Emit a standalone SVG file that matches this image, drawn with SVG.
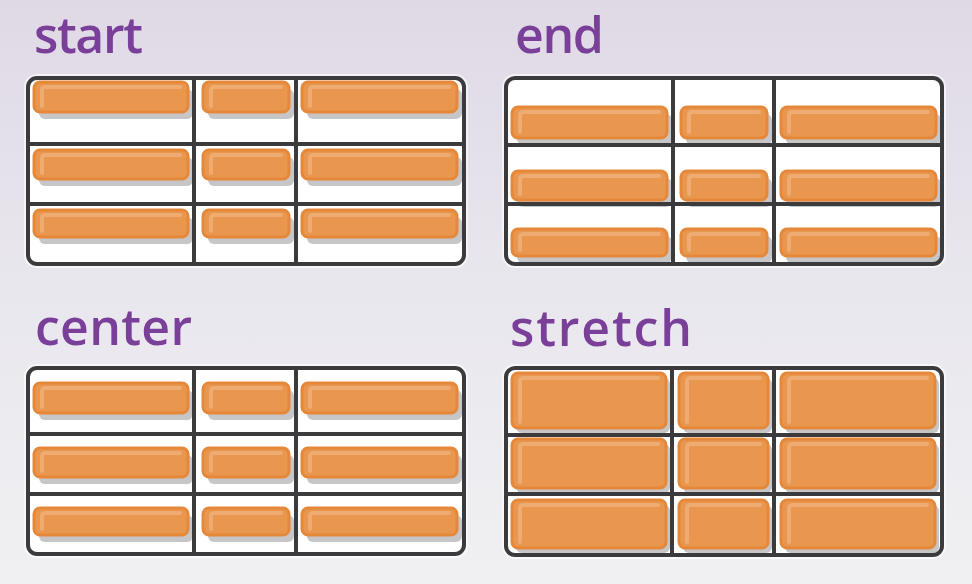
<svg xmlns="http://www.w3.org/2000/svg" width="972" height="584" viewBox="0 0 972 584">
<defs>
<linearGradient id="bg" x1="0" y1="0" x2="0" y2="1">
<stop offset="0" stop-color="#dfd9e6"/>
<stop offset="0.5" stop-color="#e9e7ee"/>
<stop offset="1" stop-color="#f0f0f2"/>
</linearGradient>
</defs>
<style>
.lbl{font-family:"Open Sans","Liberation Sans",sans-serif;font-size:50px;font-weight:600;fill:#7a3f98}
.frame{fill:#ffffff;stroke:#ffffff;stroke-width:8;stroke-opacity:0.6}
.edge{fill:none;stroke:#3b3b3d;stroke-width:4}
.ln{stroke:#3b3b3d;stroke-width:4;stroke-linecap:round}
.sh{fill:#c6c6c8}
.bx{fill:#e9964f;stroke:#e6883a;stroke-width:3}
.hl{fill:none;stroke:#eeac72;stroke-width:4;stroke-linecap:round}
</style>
<rect x="0" y="0" width="972" height="584" fill="url(#bg)"/>

<g id="panel-start">
<text class="lbl" x="34" y="53" textLength="109" lengthAdjust="spacing">start</text>
<rect class="frame" x="28" y="78" width="436" height="186" rx="9"/>
<g id="start-items">
<rect class="sh" x="39" y="89" width="154" height="30" rx="6"/><rect class="bx" x="34" y="82" width="154" height="30" rx="6"/><path class="hl" d="M42 106V90Q42 87 46 87H180"/>
<rect class="sh" x="208" y="89" width="86" height="30" rx="6"/><rect class="bx" x="203" y="82" width="86" height="30" rx="6"/><path class="hl" d="M211 106V90Q211 87 215 87H281"/>
<rect class="sh" x="307" y="89" width="155" height="30" rx="6"/><rect class="bx" x="302" y="82" width="155" height="30" rx="6"/><path class="hl" d="M310 106V90Q310 87 314 87H449"/>
<rect class="sh" x="39" y="157" width="154" height="29" rx="6"/><rect class="bx" x="34" y="150" width="154" height="29" rx="6"/><path class="hl" d="M42 173V158Q42 155 46 155H180"/>
<rect class="sh" x="208" y="157" width="86" height="29" rx="6"/><rect class="bx" x="203" y="150" width="86" height="29" rx="6"/><path class="hl" d="M211 173V158Q211 155 215 155H281"/>
<rect class="sh" x="307" y="157" width="155" height="29" rx="6"/><rect class="bx" x="302" y="150" width="155" height="29" rx="6"/><path class="hl" d="M310 173V158Q310 155 314 155H449"/>
<rect class="sh" x="39" y="217" width="154" height="27" rx="6"/><rect class="bx" x="34" y="210" width="154" height="27" rx="6"/><path class="hl" d="M42 231V218Q42 215 46 215H180"/>
<rect class="sh" x="208" y="217" width="86" height="27" rx="6"/><rect class="bx" x="203" y="210" width="86" height="27" rx="6"/><path class="hl" d="M211 231V218Q211 215 215 215H281"/>
<rect class="sh" x="307" y="217" width="155" height="27" rx="6"/><rect class="bx" x="302" y="210" width="155" height="27" rx="6"/><path class="hl" d="M310 231V218Q310 215 314 215H449"/>
</g>
<g id="start-grid">
<line class="ln" x1="194" y1="78" x2="194" y2="264"/><line class="ln" x1="296" y1="78" x2="296" y2="264"/>
<line class="ln" x1="28" y1="144" x2="464" y2="144"/><line class="ln" x1="28" y1="204" x2="464" y2="204"/>
<rect class="edge" x="28" y="78" width="436" height="186" rx="9"/>
</g>
</g>

<g id="panel-end">
<text class="lbl" x="515" y="53" textLength="89" lengthAdjust="spacing">end</text>
<rect class="frame" x="506" y="78" width="436" height="186" rx="9"/>
<g id="end-items">
<rect class="sh" x="517" y="114" width="155" height="31" rx="6"/><rect class="bx" x="512" y="107" width="155" height="31" rx="6"/><path class="hl" d="M520 132V115Q520 112 524 112H659"/>
<rect class="sh" x="686" y="114" width="86" height="31" rx="6"/><rect class="bx" x="681" y="107" width="86" height="31" rx="6"/><path class="hl" d="M689 132V115Q689 112 693 112H759"/>
<rect class="sh" x="786" y="114" width="155" height="31" rx="6"/><rect class="bx" x="781" y="107" width="155" height="31" rx="6"/><path class="hl" d="M789 132V115Q789 112 793 112H928"/>
<rect class="sh" x="517" y="178" width="155" height="29" rx="6"/><rect class="bx" x="512" y="171" width="155" height="29" rx="6"/><path class="hl" d="M520 194V179Q520 176 524 176H659"/>
<rect class="sh" x="686" y="178" width="86" height="29" rx="6"/><rect class="bx" x="681" y="171" width="86" height="29" rx="6"/><path class="hl" d="M689 194V179Q689 176 693 176H759"/>
<rect class="sh" x="786" y="178" width="155" height="29" rx="6"/><rect class="bx" x="781" y="171" width="155" height="29" rx="6"/><path class="hl" d="M789 194V179Q789 176 793 176H928"/>
<rect class="sh" x="517" y="236" width="155" height="27" rx="6"/><rect class="bx" x="512" y="229" width="155" height="27" rx="6"/><path class="hl" d="M520 250V237Q520 234 524 234H659"/>
<rect class="sh" x="686" y="236" width="86" height="27" rx="6"/><rect class="bx" x="681" y="229" width="86" height="27" rx="6"/><path class="hl" d="M689 250V237Q689 234 693 234H759"/>
<rect class="sh" x="786" y="236" width="155" height="27" rx="6"/><rect class="bx" x="781" y="229" width="155" height="27" rx="6"/><path class="hl" d="M789 250V237Q789 234 793 234H928"/>
</g>
<g id="end-grid">
<line class="ln" x1="673" y1="78" x2="673" y2="264"/><line class="ln" x1="774" y1="78" x2="774" y2="264"/>
<line class="ln" x1="506" y1="145" x2="942" y2="145"/><line class="ln" x1="506" y1="204" x2="942" y2="204"/>
<rect class="edge" x="506" y="78" width="436" height="186" rx="9"/>
</g>
</g>

<g id="panel-center">
<text class="lbl" x="35" y="345" textLength="157" lengthAdjust="spacing">center</text>
<rect class="frame" x="28" y="368" width="436" height="186" rx="9"/>
<g id="center-items">
<rect class="sh" x="39" y="390" width="154" height="30" rx="6"/><rect class="bx" x="34" y="383" width="154" height="30" rx="6"/><path class="hl" d="M42 407V391Q42 388 46 388H180"/>
<rect class="sh" x="208" y="390" width="86" height="30" rx="6"/><rect class="bx" x="203" y="383" width="86" height="30" rx="6"/><path class="hl" d="M211 407V391Q211 388 215 388H281"/>
<rect class="sh" x="307" y="390" width="155" height="30" rx="6"/><rect class="bx" x="302" y="383" width="155" height="30" rx="6"/><path class="hl" d="M310 407V391Q310 388 314 388H449"/>
<rect class="sh" x="39" y="455" width="154" height="29" rx="6"/><rect class="bx" x="34" y="448" width="154" height="29" rx="6"/><path class="hl" d="M42 471V456Q42 453 46 453H180"/>
<rect class="sh" x="208" y="455" width="86" height="29" rx="6"/><rect class="bx" x="203" y="448" width="86" height="29" rx="6"/><path class="hl" d="M211 471V456Q211 453 215 453H281"/>
<rect class="sh" x="307" y="455" width="155" height="29" rx="6"/><rect class="bx" x="302" y="448" width="155" height="29" rx="6"/><path class="hl" d="M310 471V456Q310 453 314 453H449"/>
<rect class="sh" x="39" y="515" width="154" height="27" rx="6"/><rect class="bx" x="34" y="508" width="154" height="27" rx="6"/><path class="hl" d="M42 529V516Q42 513 46 513H180"/>
<rect class="sh" x="208" y="515" width="86" height="27" rx="6"/><rect class="bx" x="203" y="508" width="86" height="27" rx="6"/><path class="hl" d="M211 529V516Q211 513 215 513H281"/>
<rect class="sh" x="307" y="515" width="155" height="27" rx="6"/><rect class="bx" x="302" y="508" width="155" height="27" rx="6"/><path class="hl" d="M310 529V516Q310 513 314 513H449"/>
</g>
<g id="center-grid">
<line class="ln" x1="194" y1="368" x2="194" y2="554"/><line class="ln" x1="296" y1="368" x2="296" y2="554"/>
<line class="ln" x1="28" y1="434" x2="464" y2="434"/><line class="ln" x1="28" y1="494" x2="464" y2="494"/>
<rect class="edge" x="28" y="368" width="436" height="186" rx="9"/>
</g>
</g>

<g id="panel-stretch">
<text class="lbl" x="510" y="346" textLength="182" lengthAdjust="spacing">stretch</text>
<rect class="frame" x="506" y="368" width="436" height="187" rx="9"/>
<g id="stretch-items">
<rect class="sh" x="516" y="378" width="154" height="55" rx="6"/><rect class="bx" x="512" y="373" width="154" height="55" rx="6"/><path class="hl" d="M520 422V381Q520 378 524 378H658"/>
<rect class="sh" x="683" y="378" width="89" height="55" rx="6"/><rect class="bx" x="679" y="373" width="89" height="55" rx="6"/><path class="hl" d="M687 422V381Q687 378 691 378H760"/>
<rect class="sh" x="785" y="378" width="154" height="55" rx="6"/><rect class="bx" x="781" y="373" width="154" height="55" rx="6"/><path class="hl" d="M789 422V381Q789 378 793 378H927"/>
<rect class="sh" x="516" y="444" width="154" height="49" rx="6"/><rect class="bx" x="512" y="439" width="154" height="49" rx="6"/><path class="hl" d="M520 482V447Q520 444 524 444H658"/>
<rect class="sh" x="683" y="444" width="89" height="49" rx="6"/><rect class="bx" x="679" y="439" width="89" height="49" rx="6"/><path class="hl" d="M687 482V447Q687 444 691 444H760"/>
<rect class="sh" x="785" y="444" width="154" height="49" rx="6"/><rect class="bx" x="781" y="439" width="154" height="49" rx="6"/><path class="hl" d="M789 482V447Q789 444 793 444H927"/>
<rect class="sh" x="516" y="505" width="154" height="48" rx="6"/><rect class="bx" x="512" y="500" width="154" height="48" rx="6"/><path class="hl" d="M520 542V508Q520 505 524 505H658"/>
<rect class="sh" x="683" y="505" width="89" height="48" rx="6"/><rect class="bx" x="679" y="500" width="89" height="48" rx="6"/><path class="hl" d="M687 542V508Q687 505 691 505H760"/>
<rect class="sh" x="785" y="505" width="154" height="48" rx="6"/><rect class="bx" x="781" y="500" width="154" height="48" rx="6"/><path class="hl" d="M789 542V508Q789 505 793 505H927"/>
</g>
<g id="stretch-grid">
<line class="ln" x1="672" y1="368" x2="672" y2="555"/><line class="ln" x1="774" y1="368" x2="774" y2="555"/>
<line class="ln" x1="506" y1="435" x2="942" y2="435"/><line class="ln" x1="506" y1="494" x2="942" y2="494"/>
<rect class="edge" x="506" y="368" width="436" height="187" rx="9"/>
</g>
</g>
</svg>
